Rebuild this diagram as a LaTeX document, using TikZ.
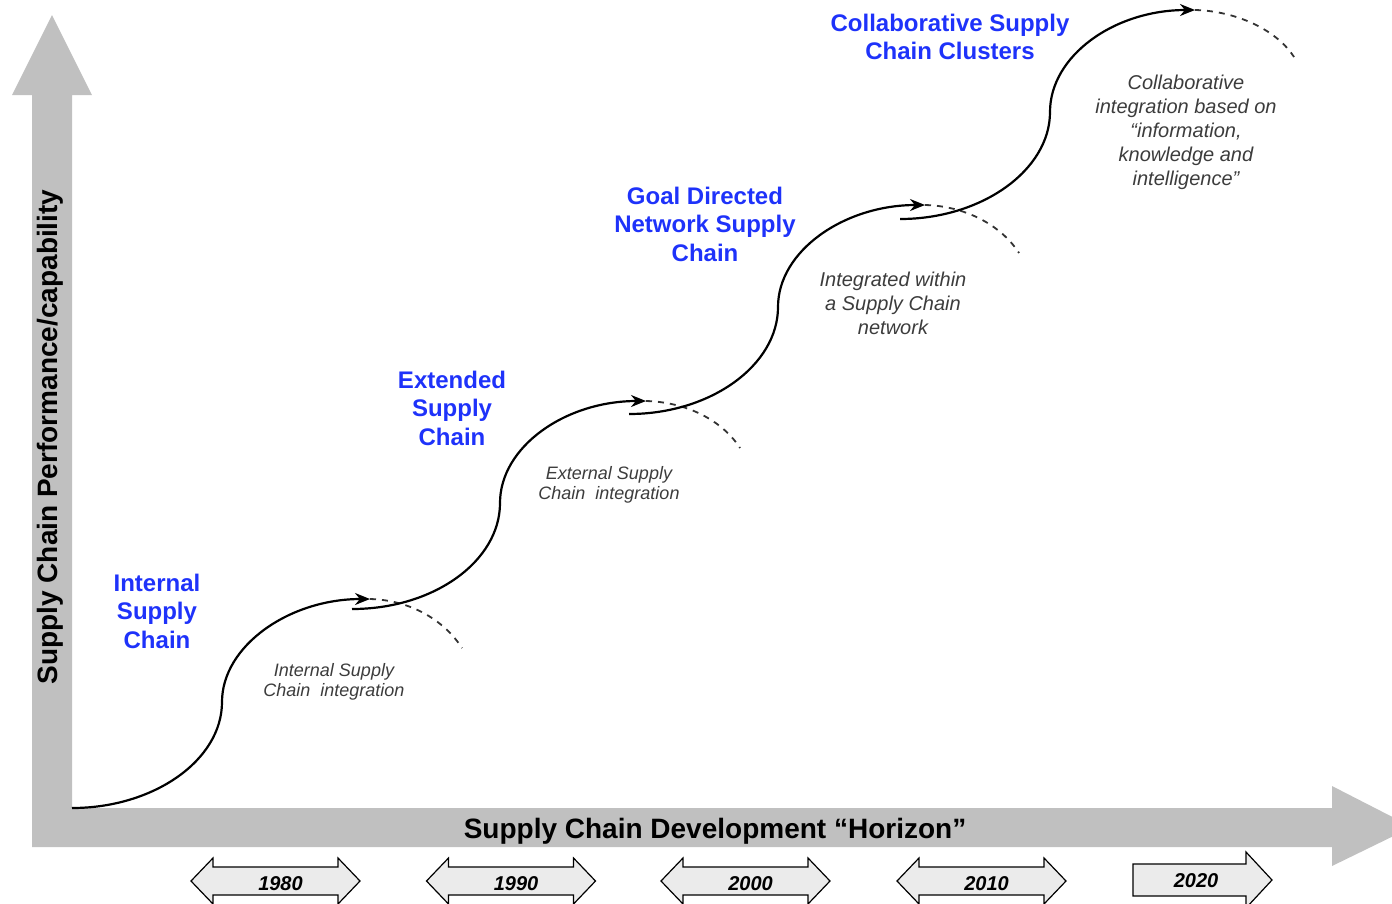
\documentclass[tikz,border=0pt]{standalone}
\usepackage{fontspec}
\setmainfont{Liberation Sans}
\usetikzlibrary{arrows.meta}
\definecolor{axisgray}{RGB}{192,192,192}
\definecolor{stageblue}{RGB}{30,50,250}
\definecolor{notegray}{RGB}{60,60,60}
\definecolor{yearfill}{RGB}{235,235,235}
\begin{document}
\begin{tikzpicture}[x=1pt,y=-1pt,
  stagelabel/.style={text=stageblue, font=\fontsize{24}{28.5}\selectfont\bfseries, align=center, inner sep=0pt},
  note/.style={text=notegray, font=\fontsize{20}{24}\selectfont\itshape, align=center, inner sep=0pt},
  smallnote/.style={text=notegray, font=\fontsize{18}{20.5}\selectfont\itshape, align=center, inner sep=0pt},
  axislabel/.style={font=\fontsize{28}{32}\selectfont\bfseries, inner sep=0pt, anchor=base},
  growth/.style={line width=2.2pt, -{Stealth[length=15pt,width=12pt]}},
  fade/.style={line width=1.8pt, dash pattern=on 6pt off 6pt, draw=black!80},
  yearbox/.style={draw=black, line width=1.2pt, fill=yearfill, line join=miter},
  yeartext/.style={font=\fontsize{20}{24}\selectfont\bfseries\itshape, inner sep=0pt, anchor=base},
]
\useasboundingbox (0,0) rectangle (1392,903);

% axes
\fill[axisgray] (52,15) -- (92,95) -- (72,95) -- (72,808) -- (1332,808) -- (1332,786)
  -- (1412,827) -- (1332,866) -- (1332,847) -- (32,847) -- (32,95) -- (12,95) -- cycle;
\node[axislabel] (xlab) at (715,838) {Supply Chain Development “Horizon”};
\node[axislabel, rotate=90] (ylab) at (57,437) {Supply Chain Performance/capability};

% stage curve points
\coordinate (s1a) at (72,808);  \coordinate (s1m) at (222,702);  \coordinate (s1b) at (370,599);  \coordinate (s1e) at (462,648);
\coordinate (s2a) at (352,609); \coordinate (s2m) at (500,503);  \coordinate (s2b) at (646,401);  \coordinate (s2e) at (740,448);
\coordinate (s3a) at (629,414); \coordinate (s3m) at (778,307);  \coordinate (s3b) at (925,205);  \coordinate (s3e) at (1019,253);
\coordinate (s4a) at (900,219); \coordinate (s4m) at (1050,112); \coordinate (s4b) at (1195,10);  \coordinate (s4e) at (1294,57);

\foreach \i in {1,2,3,4}{
  \draw[fade] (s\i b) .. controls ++(40,1) and ++(-18,-28) .. (s\i e);
  \draw[growth] (s\i a) .. controls ++(82,0) and ++(0,58) .. (s\i m)
     .. controls ++(0,-56) and ++(-81,0) .. (s\i b);
}

% stage labels
\node[stagelabel] (lab1) at (157,611) {Internal\\Supply\\Chain};
\node[stagelabel] (lab2) at (452,408) {Extended\\Supply\\Chain};
\node[stagelabel] (lab3) at (705,224) {Goal Directed\\Network Supply\\Chain};
\node[stagelabel] (lab4) at (950,37) {Collaborative Supply\\Chain Clusters};

% notes
\node[smallnote] (n1) at (334,682) {Internal Supply\\Chain\ \ integration};
\node[smallnote] (n2) at (609,485) {External Supply\\Chain\ \ integration};
\node[note] (n3) at (893,303) {Integrated within\\a Supply Chain\\network};
\node[note] (n4) at (1186,132) {Collaborative\\integration based on\\“information,\\knowledge and\\intelligence”};

% year arrows
\foreach \cx/\yr in {275.5/1980, 511/1990, 745.5/2000, 981.5/2010}{
  \draw[yearbox] (\cx-84.5,881) -- (\cx-62.5,858) -- (\cx-62.5,867) -- (\cx+62.5,867)
    -- (\cx+62.5,858) -- (\cx+84.5,881) -- (\cx+62.5,904) -- (\cx+62.5,895)
    -- (\cx-62.5,895) -- (\cx-62.5,904) -- cycle;
  \node[yeartext] (yr\yr) at (\cx+5,890) {\yr};
}
\draw[yearbox] (1133,864) -- (1246,864) -- (1246,852) -- (1272,880) -- (1246,908)
  -- (1246,896) -- (1133,896) -- cycle;
\node[yeartext] (yr2020) at (1196,887) {2020};
\end{tikzpicture}
\end{document}
